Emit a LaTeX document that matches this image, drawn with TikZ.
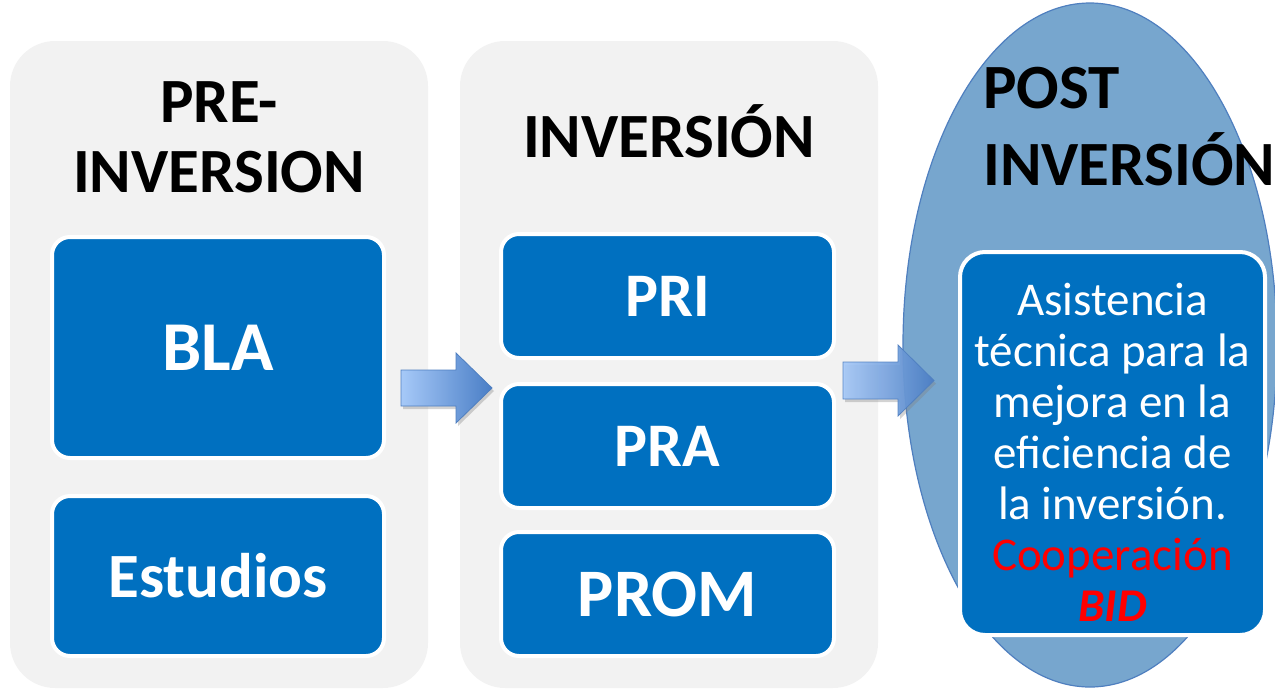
\documentclass[tikz,border=0pt]{standalone}
\usepackage{fontspec}
\setmainfont{Carlito}
\usetikzlibrary{shapes.geometric,shadows}
\definecolor{panelgray}{HTML}{F2F2F2}
\definecolor{boxblue}{HTML}{0070C0}
\definecolor{ellfill}{HTML}{77A6CE}
\definecolor{elldraw}{HTML}{4F7FBF}
\definecolor{arrL}{HTML}{A6C9F8}
\definecolor{arrR}{HTML}{4A7EC6}
\definecolor{arrD}{HTML}{4F7FC0}
\tikzset{
  panel/.style={fill=panelgray, rounded corners=45pt, inner sep=0pt, outer sep=0pt, minimum width=418pt, minimum height=647pt},
  bluebox/.style={fill=boxblue, draw=white, line width=4pt, rounded corners=18pt, inner sep=0pt, minimum width=332pt, text=white, font=\bfseries},
  title/.style={font=\fontsize{63}{70}\selectfont\bfseries, text=black, inner sep=0pt},
  blockarrow/.style={left color=arrL, right color=arrR, draw=arrD, line width=0.8pt, line join=miter, drop shadow={shadow xshift=2pt, shadow yshift=-3pt, opacity=0.35}}
}
\begin{document}
\begin{tikzpicture}[x=1pt,y=-1pt]
\useasboundingbox (0,0) rectangle (1275,689);
\clip (0,0) rectangle (1275,689);
% panels
\node[panel] (p1) at (219,364.5) {};
\node[panel] (p2) at (669,364.5) {};
% titles
\node[title, anchor=base] (t1a) at (219,122) {PRE-};
\node[title, anchor=base] (t1b) at (219,192) {INVERSION};
\node[title, anchor=base] (t2) at (669,157) {INVERSIÓN};
% panel 1 boxes
\node[bluebox, minimum height=221pt, font=\fontsize{70}{80}\selectfont\bfseries] (bla) at (218,347.5) {BLA};
\node[bluebox, minimum height=160pt, font=\fontsize{63}{70}\selectfont\bfseries] (est) at (218,576) {Estudios};
% panel 2 boxes
\node[bluebox, minimum width=333pt, minimum height=124pt, font=\fontsize{62}{70}\selectfont\bfseries] (pri) at (667.5,296) {PRI};
\node[bluebox, minimum width=333pt, minimum height=124pt, font=\fontsize{62}{70}\selectfont\bfseries] (pra) at (667.5,446) {PRA};
\node[bluebox, minimum width=333pt, minimum height=124pt, font=\fontsize{68}{76}\selectfont\bfseries] (prom) at (667.5,594) {PROM};
% ellipse
\node[ellipse, fill=ellfill, draw=elldraw, line width=1.2pt, minimum width=374pt, minimum height=684pt, inner sep=0pt] (ell) at (1090,345) {};
\node[title, anchor=base west] (t3a) at (983,108) {POST};
\node[title, anchor=base west] (t3b) at (983,185) {INVERSIÓN};
\node[fill=boxblue, draw=white, line width=4pt, rounded corners=25pt, minimum width=305pt, minimum height=383pt, inner sep=0pt] (post) at (1112.5,443.5) {};
\node[anchor=north, align=center, text=white, inner sep=0pt, font=\fontsize{47}{51}\selectfont] (posttxt) at (1112.5,283) {Asistencia\\técnica para la\\mejora en la\\eficiencia de\\la inversión.\\\textcolor{red}{Cooperación}\\\textcolor{red}{\bfseries\itshape BID}};
% block arrows
\path[blockarrow] (401,370) -- (456,370) -- (456,353) -- (492,388) -- (456,423) -- (456,406) -- (401,406) -- cycle;
\path[blockarrow, opacity=0.92] (843,362) -- (898,362) -- (898,345) -- (934,380.5) -- (898,416) -- (898,399) -- (843,399) -- cycle;
\end{tikzpicture}
\end{document}
